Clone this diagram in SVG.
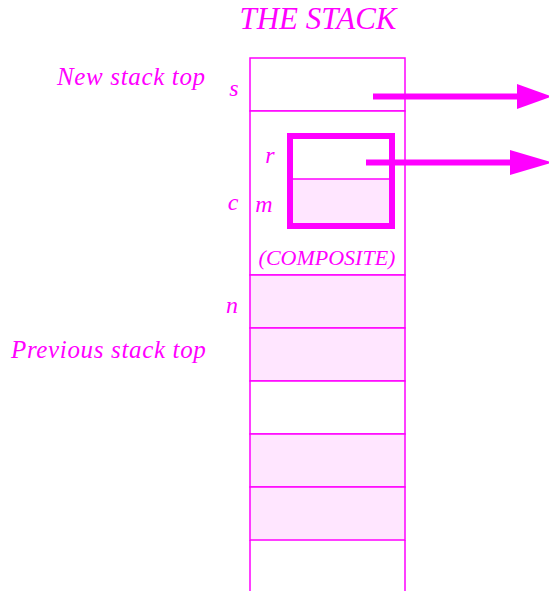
<svg xmlns="http://www.w3.org/2000/svg" width="549" height="591" viewBox="0 0 549 591">
<style>
text{font-family:"Liberation Serif",serif;font-style:italic;fill:#ff00ff}
.lab{letter-spacing:0.65px}
.cell{stroke:#ff00ff;stroke-width:1.5}
.sh{fill:#ffe6ff}
.wh{fill:#ffffff}
.arr{stroke:#ff00ff;stroke-width:6;fill:none}
</style>
<rect width="549" height="591" fill="#ffffff"/>
<text x="318" y="29" font-size="31" text-anchor="middle">THE STACK</text>
<g id="stack">
<rect class="cell wh" x="250" y="58" width="155" height="53"/>
<rect class="cell wh" x="250" y="111" width="155" height="164"/>
<rect class="cell sh" x="250" y="275" width="155" height="53"/>
<rect class="cell sh" x="250" y="328" width="155" height="53"/>
<rect class="cell wh" x="250" y="381" width="155" height="53"/>
<rect class="cell sh" x="250" y="434" width="155" height="53"/>
<rect class="cell sh" x="250" y="487" width="155" height="53"/>
<path class="cell" d="M250,540 V591 M405,540 V591" fill="none"/>
</g>
<g id="composite">
<rect class="sh" x="290" y="179" width="102" height="47"/>
<line x1="290" y1="179" x2="392" y2="179" stroke="#ff00ff" stroke-width="1.5"/>
<rect x="290" y="136" width="102" height="90" fill="none" stroke="#ff00ff" stroke-width="6"/>
<text x="327" y="265" font-size="22" text-anchor="middle">(COMPOSITE)</text>
</g>
<g id="labels">
<text class="lab" x="57" y="85" font-size="25">New stack top</text>
<text class="lab" x="11" y="358" font-size="25">Previous stack top</text>
<text x="234" y="96" font-size="24" text-anchor="middle">s</text>
<text x="233" y="210" font-size="24" text-anchor="middle">c</text>
<text x="232" y="313" font-size="24" text-anchor="middle">n</text>
<text x="270" y="163" font-size="24" text-anchor="middle">r</text>
<text x="264" y="212" font-size="24" text-anchor="middle">m</text>
</g>
<g id="connectors">
<line class="arr" x1="373" y1="96.5" x2="518" y2="96.5"/>
<polygon points="517,84 517,109 552,96.5" fill="#ff00ff"/>
<line class="arr" x1="366" y1="162.5" x2="511" y2="162.5"/>
<polygon points="510,150 510,175 552,162.5" fill="#ff00ff"/>
</g>
</svg>
